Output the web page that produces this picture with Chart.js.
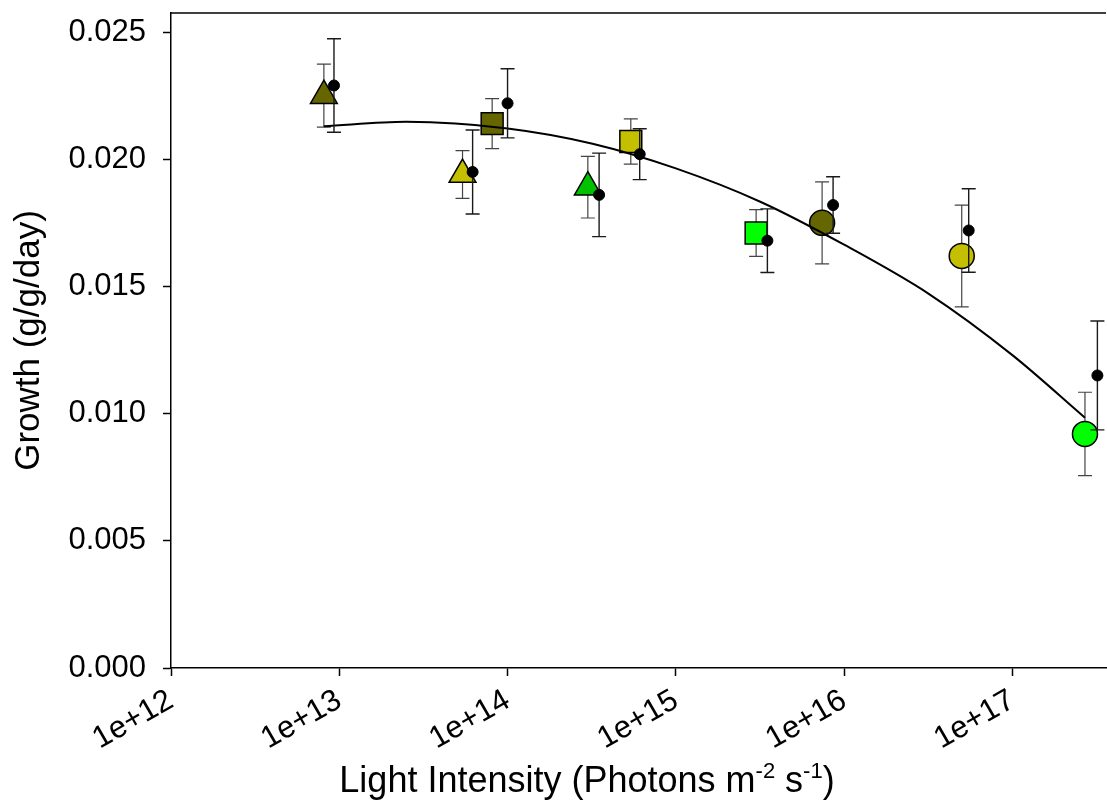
<!DOCTYPE html>
<html>
<head>
<meta charset="utf-8">
<script src="https://cdn.jsdelivr.net/npm/chart.js@4"></script>
<style>
  body { margin: 0; background: #fff; }
</style>
</head>
<body>
<canvas id="growthChart" width="1107" height="806"></canvas>
<script>
// colours of the three light groups
const OLIVE = "#666600";
const YELLOW = "#c4c000";
const GREEN = "#00c000";
const LIME = "#00ff00";

// triangles
const triX = [8.1e12, 5.4e13, 3.0e14];
const triY = [0.0225, 0.0194, 0.0189];
const triErr = [0.00124, 0.00094, 0.00121];
const triColors = [OLIVE, YELLOW, GREEN];

// squares
const sqX = [8.1e13, 5.4e14, 3.0e15];
const sqY = [0.0214, 0.0207, 0.0171];
const sqErr = [0.00098, 0.00089, 0.00092];
const sqColors = [OLIVE, YELLOW, LIME];

// circles
const circX = [7.4e15, 5.0e16, 2.7e17];
const circY = [0.0175, 0.0162, 0.0092];
const circErr = [0.00161, 0.002, 0.00164];
const circColors = [OLIVE, YELLOW, LIME];

// small black dots
const dotX = [9.3e12, 6.2e13, 1.0e14, 3.5e14, 6.1e14, 3.5e15, 8.6e15, 5.5e16, 3.2e17];
const dotY = [0.0229, 0.0195, 0.0222, 0.0186, 0.0202, 0.0168, 0.0182, 0.0172, 0.0115];
const dotErr = [0.00184, 0.00165, 0.00136, 0.00164, 0.001, 0.00125, 0.00111, 0.00164, 0.00214];

// fitted curve
const curveX = [8.1e12, 2.5e13, 1e14, 3.2e14, 1e15, 3.2e15, 1e16, 3.2e16, 1e17, 2.7e17];
const curveY = [0.0213, 0.02147, 0.02121, 0.02061, 0.01964, 0.01832, 0.01664, 0.0147, 0.0123, 0.00984];

const xTicks = [1e12, 1e13, 1e14, 1e15, 1e16, 1e17];
const yTicks = [0, 0.005, 0.01, 0.015, 0.02, 0.025];

function toPoints(xs, ys) {
  return xs.map((x, i) => ({ x: x, y: ys[i] }));
}

// vertical error bars, drawn just under each dataset's markers
const errorBars = {
  id: "errorBars",
  beforeDatasetDraw(chart, args) {
    const ds = chart.data.datasets[args.index];
    if (!ds.errors) return;
    const ctx = chart.ctx;
    const xs = chart.scales.x;
    const ys = chart.scales.y;
    ctx.save();
    ctx.strokeStyle = ds.errorColor;
    ctx.lineWidth = ds.errorWidth;
    ds.data.forEach((p, i) => {
      const px = xs.getPixelForValue(p.x);
      const top = ys.getPixelForValue(p.y + ds.errors[i]);
      const bot = ys.getPixelForValue(p.y - ds.errors[i]);
      ctx.beginPath();
      ctx.moveTo(px, top);
      ctx.lineTo(px, bot);
      ctx.moveTo(px - 7, top);
      ctx.lineTo(px + 7, top);
      ctx.moveTo(px - 7, bot);
      ctx.lineTo(px + 7, bot);
      ctx.stroke();
    });
    ctx.restore();
  },
};

// top frame line and x title with superscripts
const frameAndTitle = {
  id: "frameAndTitle",
  afterDraw(chart) {
    const ctx = chart.ctx;
    const area = chart.chartArea;
    ctx.save();
    ctx.strokeStyle = "#000";
    ctx.lineWidth = 1.5;
    ctx.beginPath();
    ctx.moveTo(area.left, area.top);
    ctx.lineTo(area.right, area.top);
    ctx.stroke();

    const big = "36px 'Liberation Sans', Arial, sans-serif";
    const small = "22px 'Liberation Sans', Arial, sans-serif";
    const parts = [
      ["Light Intensity (Photons m", big, 0],
      ["-2", small, -14],
      [" s", big, 0],
      ["-1", small, -14],
      [")", big, 0],
    ];
    ctx.fillStyle = "#000";
    ctx.textBaseline = "alphabetic";
    ctx.textAlign = "left";
    let total = 0;
    parts.forEach((p) => {
      ctx.font = p[1];
      total += ctx.measureText(p[0]).width;
    });
    let x = 587 - total / 2;
    const y = 792;
    parts.forEach((p) => {
      ctx.font = p[1];
      ctx.fillText(p[0], x, y + p[2]);
      x += ctx.measureText(p[0]).width;
    });
    ctx.restore();
  },
};

Chart.defaults.color = "#000";
Chart.defaults.font.family = "'Liberation Sans', Arial, sans-serif";

const ctx = document.getElementById("growthChart").getContext("2d");
new Chart(ctx, {
  type: "scatter",
  data: {
    datasets: [
      {
        data: toPoints(dotX, dotY),
        errors: dotErr,
        errorColor: "#1a1a1a",
        errorWidth: 1.4,
        pointStyle: "circle",
        pointRadius: 5.5,
        pointBackgroundColor: "#000",
        pointBorderColor: "#000",
        pointBorderWidth: 1,
        order: 0,
      },
      {
        type: "line",
        data: toPoints(curveX, curveY),
        borderColor: "#000",
        borderWidth: 2,
        pointRadius: 0,
        cubicInterpolationMode: "monotone",
        fill: false,
        order: 1,
      },
      {
        data: toPoints(triX, triY),
        errors: triErr,
        errorColor: "#444",
        errorWidth: 1.2,
        pointStyle: "triangle",
        pointRadius: 15.5,
        pointBackgroundColor: triColors,
        pointBorderColor: "#000",
        pointBorderWidth: 1.5,
        order: 2,
      },
      {
        data: toPoints(sqX, sqY),
        errors: sqErr,
        errorColor: "#444",
        errorWidth: 1.2,
        pointStyle: "rect",
        pointRadius: 15.5,
        pointBackgroundColor: sqColors,
        pointBorderColor: "#000",
        pointBorderWidth: 1.5,
        order: 3,
      },
      {
        data: toPoints(circX, circY),
        errors: circErr,
        errorColor: "#444",
        errorWidth: 1.2,
        pointStyle: "circle",
        pointRadius: 12.5,
        pointBackgroundColor: circColors,
        pointBorderColor: "#000",
        pointBorderWidth: 1.5,
        order: 4,
      },
    ],
  },
  options: {
    responsive: false,
    animation: false,
    layout: { autoPadding: false, padding: { top: 13, right: 1, left: 0, bottom: 0 } },
    plugins: {
      legend: { display: false },
      tooltip: { enabled: false },
    },
    scales: {
      x: {
        type: "logarithmic",
        position: "bottom",
        min: 1e12,
        max: 3.6e17,
        afterBuildTicks: (scale) => {
          scale.ticks = xTicks.map((v) => ({ value: v }));
        },
        afterFit: (scale) => {
          scale.height = 138;
          scale.paddingLeft = 0;
          scale.paddingRight = 0;
        },
        ticks: {
          minRotation: 30,
          maxRotation: 30,
          padding: 6,
          font: { size: 31 },
          callback: (v) => "1e+" + Math.round(Math.log10(v)),
        },
        grid: {
          drawOnChartArea: false,
          drawTicks: true,
          tickLength: 8,
          color: "#000",
          tickWidth: 1.5,
        },
        border: { color: "#000", width: 1.5 },
      },
      y: {
        min: 0,
        max: 0.02575,
        afterBuildTicks: (scale) => {
          scale.ticks = yTicks.map((v) => ({ value: v }));
        },
        afterFit: (scale) => {
          scale.width = 171;
          scale.paddingTop = 0;
          scale.paddingBottom = 0;
        },
        ticks: {
          padding: 17,
          font: { size: 31 },
          callback: (v) => v.toFixed(3),
        },
        grid: {
          drawOnChartArea: false,
          drawTicks: true,
          tickLength: 8,
          color: "#000",
          tickWidth: 1.5,
        },
        border: { color: "#000", width: 1.5 },
        title: {
          display: true,
          text: "Growth (g/g/day)",
          font: { size: 35 },
          padding: { top: 8, bottom: 0 },
        },
      },
    },
  },
  plugins: [errorBars, frameAndTitle],
});
</script>
</body>
</html>
